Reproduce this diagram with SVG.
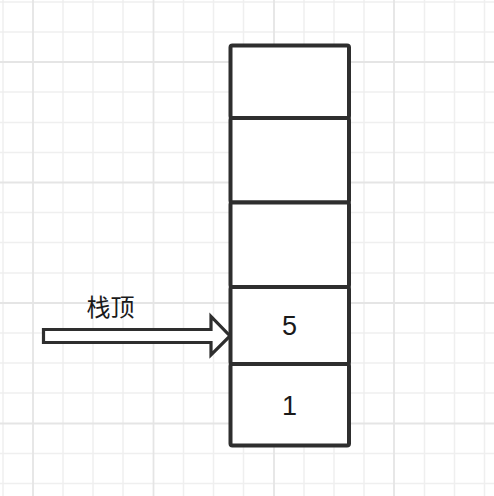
<svg xmlns="http://www.w3.org/2000/svg" width="494" height="496" viewBox="0 0 494 496">
<style>
.minor{stroke:#efefef;stroke-width:1.5;fill:none}
.major{stroke:#e5e5e5;stroke-width:1.8;fill:none}
.cell{fill:#ffffff;stroke:#2e2e2e;stroke-width:4}
.lbl{font-family:"Liberation Sans","Noto Sans CJK SC",Arial,sans-serif;fill:#1a1a1a;text-anchor:middle}
.arrow{fill:#ffffff;stroke:#2e2e2e;stroke-width:3.2;stroke-linejoin:miter}
</style>
<rect width="494" height="496" fill="#ffffff"/>
<g id="grid">
<path class="minor" d="M3 0V496M63 0V496M93 0V496M123 0V496M183.5 0V496M213.5 0V496M243.5 0V496M304 0V496M334 0V496M364 0V496M424.5 0V496M454.5 0V496M484.5 0V496M0 2H494M0 32H494M0 92H494M0 122.5H494M0 152.5H494M0 212.5H494M0 242.5H494M0 273H494M0 333H494M0 363H494M0 393H494M0 453.5H494M0 483.5H494"/>
<path class="major" d="M33 0V496M153.5 0V496M274 0V496M394 0V496M0 62H494M0 182.5H494M0 303H494M0 423.5H494"/>
</g>
<g id="connectors">
<path id="arrow" class="arrow" d="M43.5 329.5H211V316.5L230 336L211 355V342.5H43.5Z"/>
</g>
<g id="cell1"><rect class="cell" x="230.5" y="45.5" width="118.5" height="72.5" rx="2"/></g>
<g id="cell2"><rect class="cell" x="230.5" y="118" width="118.5" height="84.5" rx="2"/></g>
<g id="cell3"><rect class="cell" x="230.5" y="202.5" width="118.5" height="84.5" rx="2"/></g>
<g id="cell4"><rect class="cell" x="230.5" y="287" width="118.5" height="77" rx="2"/>
<text class="lbl" x="289.5" y="335" font-size="27">5</text></g>
<g id="cell5"><rect class="cell" x="230.5" y="364" width="118.5" height="81.5" rx="2"/>
<text class="lbl" x="289.5" y="415" font-size="27">1</text></g>
<g id="label"><text class="lbl" x="110.5" y="316" font-size="24">栈顶</text></g>
</svg>
